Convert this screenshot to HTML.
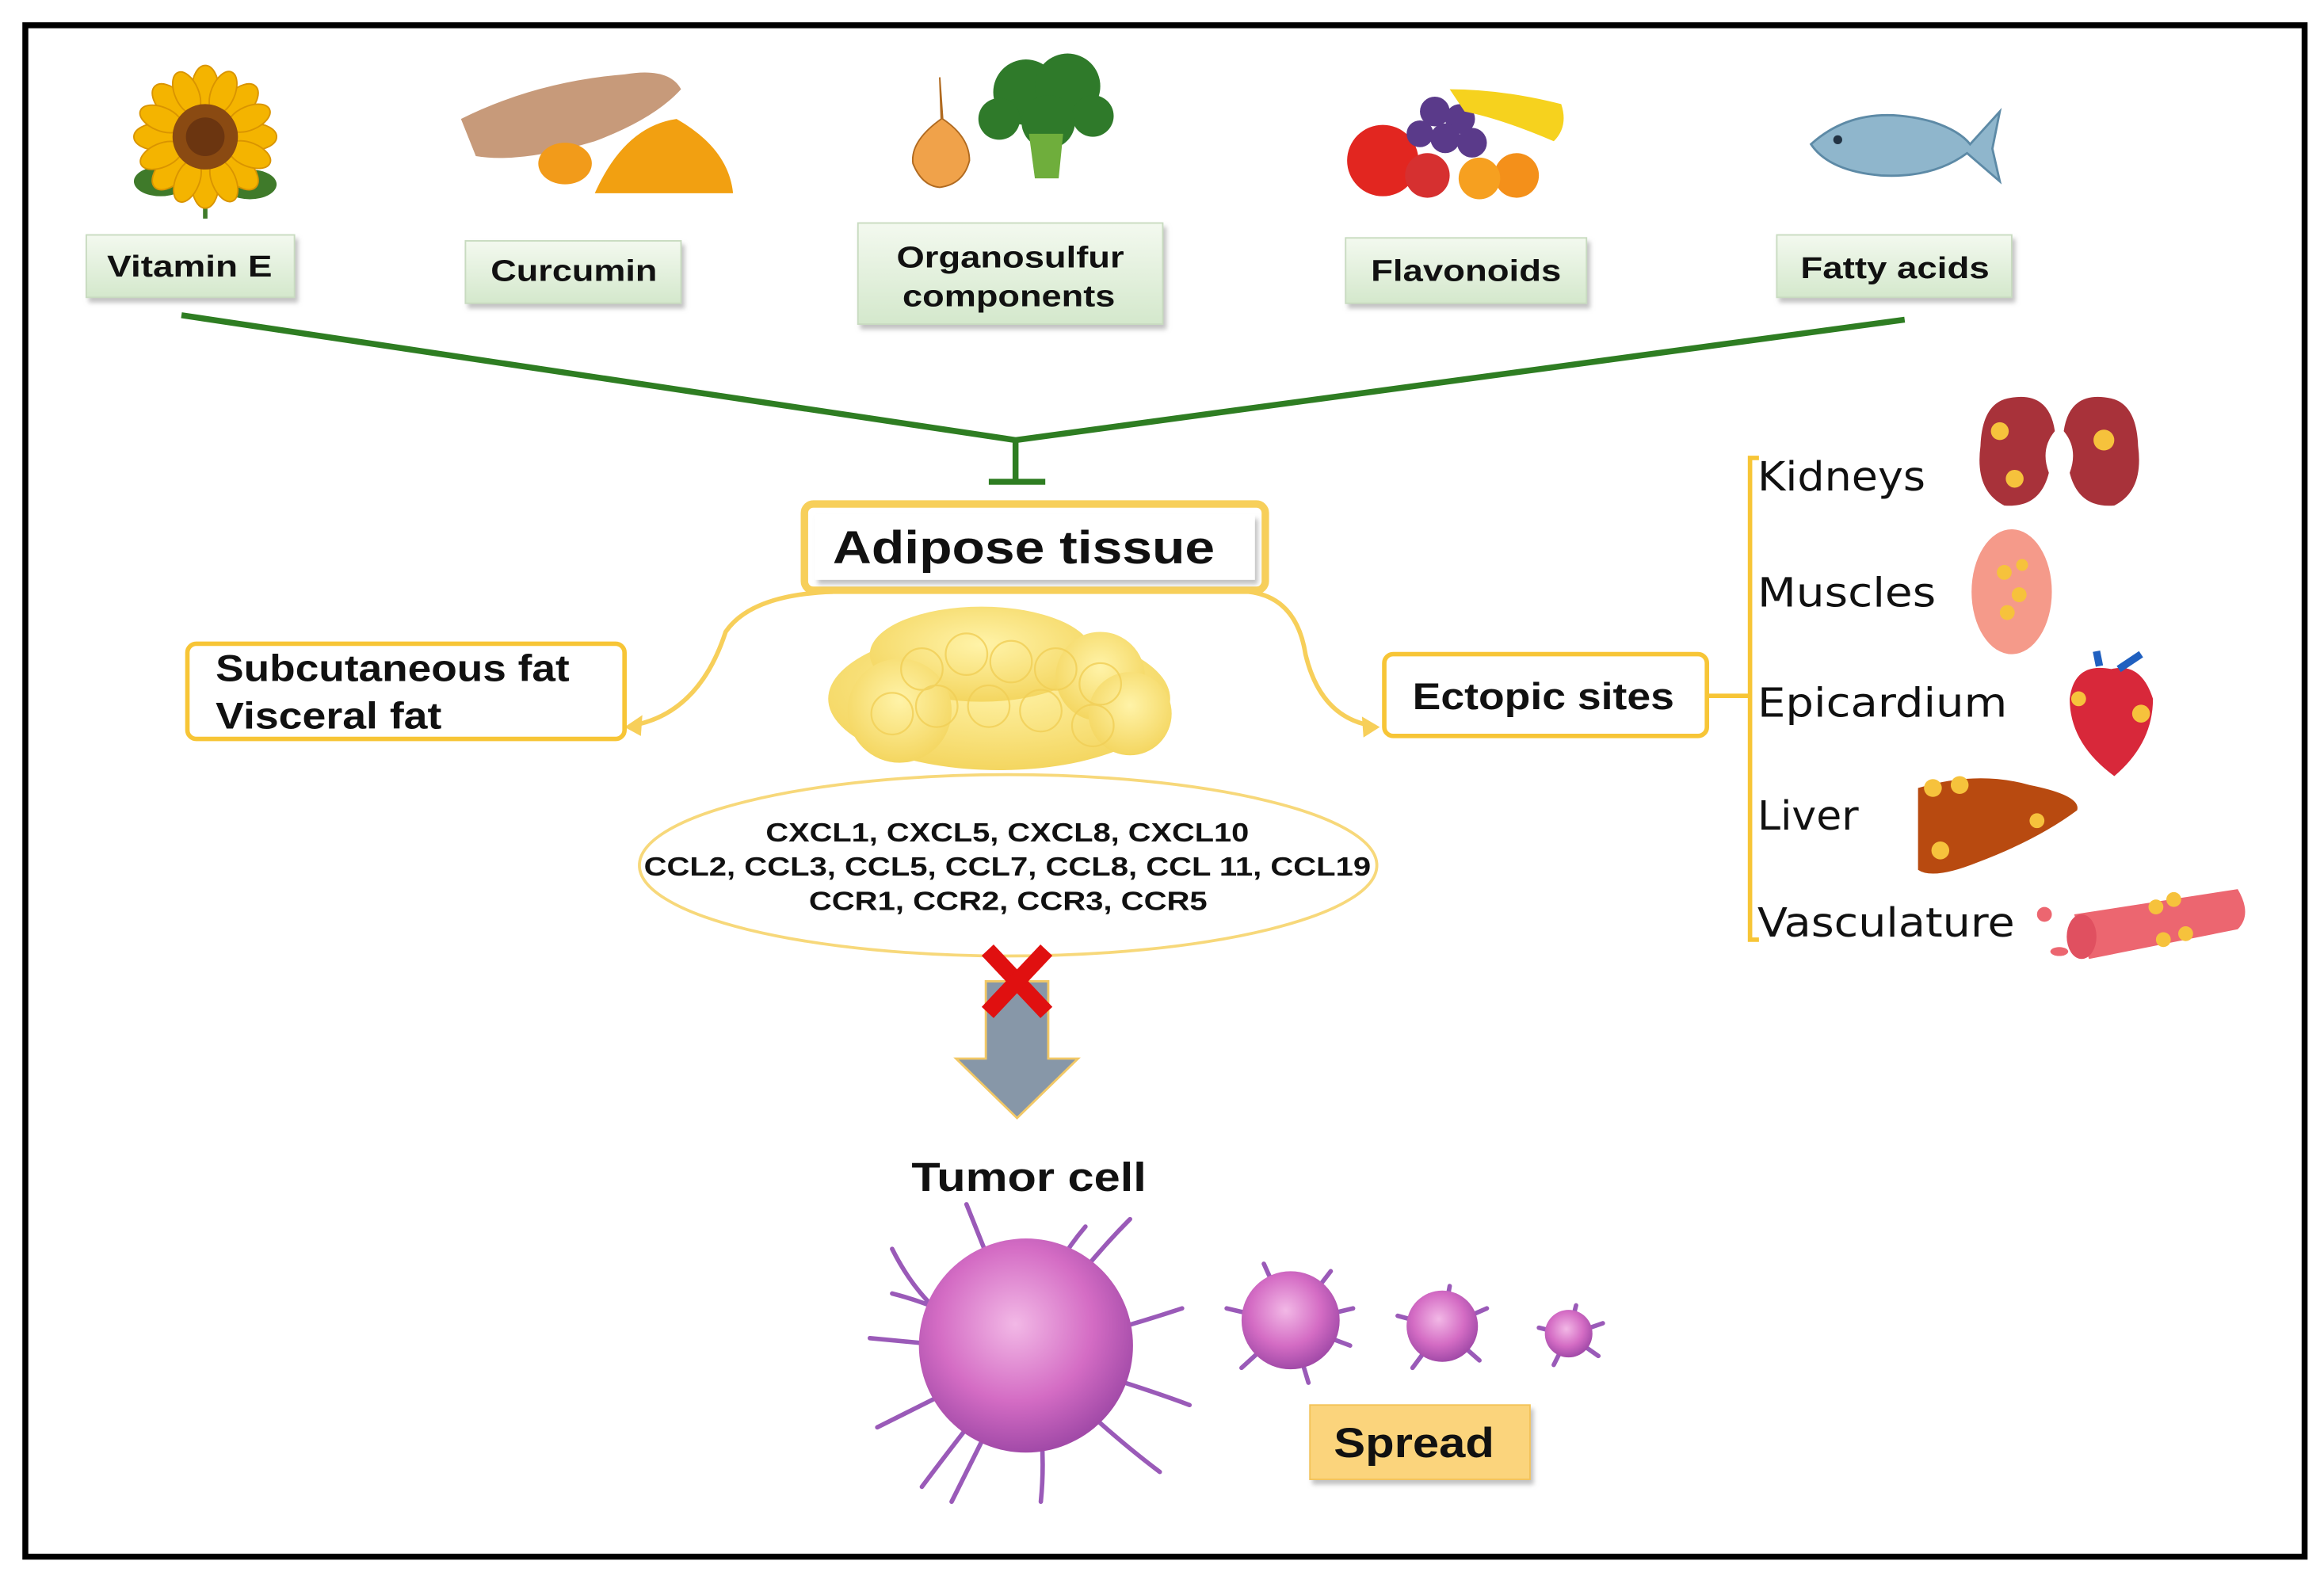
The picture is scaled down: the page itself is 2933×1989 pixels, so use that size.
<!DOCTYPE html>
<html><head><meta charset="utf-8"><style>
html,body{margin:0;padding:0;background:#fff;}
svg{display:block;}
.b{font-family:"Liberation Sans",Arial,sans-serif;font-weight:bold;fill:#111;}
.o{font-family:"DejaVu Sans",sans-serif;fill:#111;}
</style></head><body>
<svg width="2933" height="1989" viewBox="0 0 1563 1060" xmlns="http://www.w3.org/2000/svg">
<defs>
<linearGradient id="gg" x1="0" y1="0" x2="0" y2="1"><stop offset="0" stop-color="#f3f9ef"/><stop offset="1" stop-color="#d4e8cc"/></linearGradient>
<radialGradient id="fat" cx="0.5" cy="0.4" r="0.6"><stop offset="0" stop-color="#fff3a8"/><stop offset="1" stop-color="#f4d660"/></radialGradient>
<radialGradient id="cell" cx="0.45" cy="0.4" r="0.6"><stop offset="0" stop-color="#f2b8e6"/><stop offset="0.6" stop-color="#d46cc4"/><stop offset="1" stop-color="#a24aa8"/></radialGradient>
<filter id="sh" x="-10%" y="-10%" width="130%" height="140%"><feDropShadow dx="2" dy="3" stdDeviation="1.5" flood-color="#999" flood-opacity="0.6"/></filter>
</defs>
<rect x="17" y="17" width="1533" height="1030" fill="#fff" stroke="#000" stroke-width="4"/>

<!-- sunflower -->
<g transform="translate(138,92)">
<ellipse cx="-30" cy="30" rx="18" ry="10" fill="#3f7a2a"/><ellipse cx="30" cy="32" rx="18" ry="10" fill="#3f7a2a"/>
<line x1="0" y1="30" x2="0" y2="55" stroke="#3f7a2a" stroke-width="3"/>
<g fill="#f4b400" stroke="#d99400" stroke-width="1">
<ellipse cx="0" cy="-32" rx="9" ry="16"/><ellipse cx="0" cy="32" rx="9" ry="16"/><ellipse cx="-32" cy="0" rx="16" ry="9"/><ellipse cx="32" cy="0" rx="16" ry="9"/>
<ellipse cx="0" cy="-32" rx="9" ry="16" transform="rotate(45)"/><ellipse cx="0" cy="32" rx="9" ry="16" transform="rotate(45)"/><ellipse cx="-32" cy="0" rx="16" ry="9" transform="rotate(45)"/><ellipse cx="32" cy="0" rx="16" ry="9" transform="rotate(45)"/>
<ellipse cx="0" cy="-32" rx="8" ry="15" transform="rotate(22)"/><ellipse cx="0" cy="32" rx="8" ry="15" transform="rotate(22)"/><ellipse cx="-32" cy="0" rx="15" ry="8" transform="rotate(22)"/><ellipse cx="32" cy="0" rx="15" ry="8" transform="rotate(22)"/>
<ellipse cx="0" cy="-32" rx="8" ry="15" transform="rotate(67)"/><ellipse cx="0" cy="32" rx="8" ry="15" transform="rotate(67)"/><ellipse cx="-32" cy="0" rx="15" ry="8" transform="rotate(67)"/><ellipse cx="32" cy="0" rx="15" ry="8" transform="rotate(67)"/>
</g>
<circle r="22" fill="#8a4a12"/><circle r="13" fill="#6b3510"/>
</g>
<!-- curcumin -->
<g>
<path d="M310,80 Q360,55 420,50 Q450,45 458,60 Q440,80 400,95 Q350,110 320,105 Z" fill="#c79a7a"/>
<ellipse cx="380" cy="110" rx="18" ry="14" fill="#f29b1a"/>
<path d="M400,130 Q420,85 455,80 Q490,100 493,130 Z" fill="#f2a011"/>
</g>
<!-- onion & broccoli -->
<path d="M632,52 L633,80 Q612,95 614,110 Q620,125 632,126 Q648,124 652,108 Q652,92 634,80 Z" fill="#f0a24a" stroke="#b06a20" stroke-width="1"/>
<g fill="#2f7a2a"><circle cx="690" cy="62" r="22"/><circle cx="718" cy="58" r="22"/><circle cx="735" cy="78" r="14"/><circle cx="672" cy="80" r="14"/><circle cx="705" cy="82" r="18"/></g>
<path d="M692,90 L715,90 L712,120 L696,120 Z" fill="#6fae3c"/>
<!-- fruits -->
<g>
<circle cx="930" cy="108" r="24" fill="#e22620"/><circle cx="960" cy="118" r="15" fill="#d63030"/>
<g fill="#5a3a8a"><circle cx="965" cy="75" r="10"/><circle cx="982" cy="80" r="10"/><circle cx="972" cy="93" r="10"/><circle cx="990" cy="96" r="10"/><circle cx="955" cy="90" r="9"/></g>
<path d="M975,60 Q1010,60 1050,70 Q1055,85 1045,95 Q1010,80 985,75 Z" fill="#f6d21e"/>
<circle cx="1020" cy="118" r="15" fill="#f4901a"/><circle cx="995" cy="120" r="14" fill="#f6a020"/>
</g>
<!-- fish -->
<g>
<path d="M1218,97 Q1250,68 1300,82 Q1318,88 1325,97 L1345,75 L1340,100 L1345,122 L1323,103 Q1300,120 1265,118 Q1230,115 1218,97 Z" fill="#8fb6cc" stroke="#5d8aa6" stroke-width="1.5"/>
<circle cx="1236" cy="94" r="3" fill="#234"/>
</g>

<!-- label boxes -->
<g filter="url(#sh)">
<rect x="58" y="158" width="140" height="42" fill="url(#gg)" stroke="#c8dbc0"/>
<rect x="313" y="162" width="145" height="42" fill="url(#gg)" stroke="#c8dbc0"/>
<rect x="577" y="150" width="205" height="68" fill="url(#gg)" stroke="#c8dbc0"/>
<rect x="905" y="160" width="162" height="44" fill="url(#gg)" stroke="#c8dbc0"/>
<rect x="1195" y="158" width="158" height="42" fill="url(#gg)" stroke="#c8dbc0"/>
</g>
<text class="b" x="72" y="186" font-size="20" textLength="111" lengthAdjust="spacingAndGlyphs">Vitamin E</text>
<text class="b" x="330" y="189" font-size="20" textLength="112" lengthAdjust="spacingAndGlyphs">Curcumin</text>
<text class="b" x="603" y="180" font-size="20" textLength="153" lengthAdjust="spacingAndGlyphs">Organosulfur</text>
<text class="b" x="607" y="206" font-size="20" textLength="143" lengthAdjust="spacingAndGlyphs">components</text>
<text class="b" x="922" y="189" font-size="20" textLength="128" lengthAdjust="spacingAndGlyphs">Flavonoids</text>
<text class="b" x="1211" y="187" font-size="20" textLength="127" lengthAdjust="spacingAndGlyphs">Fatty acids</text>

<!-- green inhibition lines -->
<g stroke="#2e7d22" stroke-width="4" fill="none">
<polyline points="122,212 683,296 1281,215"/>
<line x1="683" y1="296" x2="683" y2="324"/>
<line x1="665" y1="324" x2="703" y2="324"/>
</g>

<!-- adipose tissue -->
<rect x="541" y="339" width="310" height="58" rx="6" fill="#fff" stroke="#f7cf5a" stroke-width="5"/>
<rect x="548" y="346" width="296" height="44" fill="#fff" filter="url(#sh)"/>
<text class="b" x="560" y="379" font-size="31" textLength="257" lengthAdjust="spacingAndGlyphs">Adipose tissue</text>

<!-- curved arrows -->
<g stroke="#f7cf5a" stroke-width="3" fill="none">
<path d="M560,398 Q505,400 488,425 Q470,480 425,488"/>
<path d="M840,398 Q872,402 878,440 Q888,482 922,488"/>
</g>
<polygon points="420,489 432,481 431,495" fill="#f7cf5a"/>
<polygon points="928,489 916,482 917,496" fill="#f7cf5a"/>

<!-- fat blob -->
<g fill="url(#fat)">
<ellipse cx="672" cy="470" rx="115" ry="48"/>
<ellipse cx="660" cy="440" rx="75" ry="32"/>
<circle cx="740" cy="455" r="30"/><circle cx="605" cy="478" r="35"/><circle cx="760" cy="480" r="28"/>
</g>
<g fill="none" stroke="#f1cf57" stroke-width="1.2" opacity="0.8">
<circle cx="620" cy="450" r="14"/><circle cx="650" cy="440" r="14"/><circle cx="680" cy="445" r="14"/><circle cx="710" cy="450" r="14"/><circle cx="740" cy="460" r="14"/>
<circle cx="600" cy="480" r="14"/><circle cx="630" cy="475" r="14"/><circle cx="665" cy="475" r="14"/><circle cx="700" cy="478" r="14"/><circle cx="735" cy="488" r="14"/>
</g>

<!-- side boxes -->
<rect x="126" y="433" width="294" height="64" rx="6" fill="#fff" stroke="#f7c536" stroke-width="3"/>
<text class="b" x="145" y="458" font-size="25" textLength="238" lengthAdjust="spacingAndGlyphs">Subcutaneous fat</text>
<text class="b" x="145" y="490" font-size="25" textLength="152" lengthAdjust="spacingAndGlyphs">Visceral fat</text>
<rect x="931" y="440" width="217" height="55" rx="6" fill="#fff" stroke="#f7c536" stroke-width="3"/>
<text class="b" x="950" y="477" font-size="25" textLength="176" lengthAdjust="spacingAndGlyphs">Ectopic sites</text>

<!-- ellipse -->
<ellipse cx="678" cy="582" rx="248" ry="61" fill="#fff" stroke="#f7d87a" stroke-width="2"/>
<text class="b" x="515" y="566" font-size="18" textLength="325" lengthAdjust="spacingAndGlyphs">CXCL1, CXCL5, CXCL8, CXCL10</text>
<text class="b" x="433" y="589" font-size="18" textLength="489" lengthAdjust="spacingAndGlyphs">CCL2, CCL3, CCL5, CCL7, CCL8, CCL 11, CCL19</text>
<text class="b" x="544" y="612" font-size="18" textLength="268" lengthAdjust="spacingAndGlyphs">CCR1, CCR2, CCR3, CCR5</text>

<!-- arrow + X -->
<polygon points="663,660 705,660 705,712 725,712 684,752 643,712 663,712" fill="#8797a8" stroke="#f2c866" stroke-width="1.5"/>
<g stroke="#e01010" stroke-width="11" stroke-linecap="square">
<line x1="668" y1="643" x2="700" y2="677"/><line x1="700" y1="643" x2="668" y2="677"/>
</g>

<text class="b" x="613" y="801" font-size="27" textLength="158" lengthAdjust="spacingAndGlyphs">Tumor cell</text>

<!-- tumor cells -->
<g stroke="#9a5ab8" stroke-width="3" stroke-linecap="round" fill="none">
<path d="M690,910 Q640,880 600,870 M690,910 Q630,940 590,960 M690,910 Q650,960 620,1000 M690,910 Q705,960 700,1010 M690,910 Q740,960 780,990 M690,910 Q750,895 795,880 M690,910 Q720,860 760,820 M690,910 Q670,860 650,810 M690,910 L585,900 M690,910 Q660,970 640,1010 M690,910 Q760,930 800,945 M690,910 Q700,860 730,825 M690,910 Q630,900 600,840"/>
<path d="M868,890 L825,880 M868,890 L835,920 M868,890 L880,930 M868,890 L908,905 M868,890 L895,855 M868,890 L850,850 M868,890 L910,880"/>
<path d="M970,893 L940,885 M970,893 L950,920 M970,893 L995,915 M970,893 L1000,880 M970,893 L975,865"/>
<path d="M1055,898 L1035,893 M1055,898 L1045,918 M1055,898 L1075,912 M1055,898 L1078,890 M1055,898 L1060,878"/>
</g>
<circle cx="690" cy="905" r="72" fill="url(#cell)"/>
<circle cx="868" cy="888" r="33" fill="url(#cell)"/>
<circle cx="970" cy="892" r="24" fill="url(#cell)"/>
<circle cx="1055" cy="897" r="16" fill="url(#cell)"/>

<!-- spread -->
<rect x="881" y="945" width="148" height="50" fill="#fbd47b" stroke="#f3c35a" filter="url(#sh)"/>
<text class="b" x="897" y="980" font-size="28" textLength="108" lengthAdjust="spacingAndGlyphs">Spread</text>

<!-- bracket -->
<g stroke="#f7c536" stroke-width="3" fill="none">
<path d="M1183,308 L1177,308 L1177,632 L1183,632"/>
<line x1="1148" y1="468" x2="1177" y2="468"/>
</g>
<text class="o" x="1182" y="330" font-size="27" textLength="113" lengthAdjust="spacingAndGlyphs">Kidneys</text>
<text class="o" x="1182" y="408" font-size="27" textLength="120" lengthAdjust="spacingAndGlyphs">Muscles</text>
<text class="o" x="1182" y="482" font-size="27" textLength="168" lengthAdjust="spacingAndGlyphs">Epicardium</text>
<text class="o" x="1182" y="558" font-size="27" textLength="68" lengthAdjust="spacingAndGlyphs">Liver</text>
<text class="o" x="1182" y="630" font-size="27" textLength="173" lengthAdjust="spacingAndGlyphs">Vasculature</text>

<!-- organs -->
<g>
<path d="M1350,268 Q1378,262 1382,290 Q1372,302 1378,318 Q1372,342 1348,340 Q1328,330 1332,300 Q1333,272 1350,268 Z" fill="#a8323a"/>
<path d="M1420,268 Q1392,262 1388,290 Q1398,302 1392,318 Q1398,342 1422,340 Q1442,330 1438,300 Q1437,272 1420,268 Z" fill="#a8323a"/>
<circle cx="1345" cy="290" r="6" fill="#f6c23c"/><circle cx="1355" cy="322" r="6" fill="#f6c23c"/><circle cx="1415" cy="296" r="7" fill="#f6c23c"/>
<ellipse cx="1353" cy="398" rx="27" ry="42" fill="#f59a8a"/>
<g fill="#f6c23c"><circle cx="1348" cy="385" r="5"/><circle cx="1358" cy="400" r="5"/><circle cx="1350" cy="412" r="5"/><circle cx="1360" cy="380" r="4"/></g>
<path d="M1392,470 Q1395,445 1420,450 Q1440,445 1448,470 Q1448,500 1422,522 Q1392,500 1392,470 Z" fill="#d8283a"/>
<path d="M1412,448 L1410,438 M1425,450 L1440,440" stroke="#2060c0" stroke-width="5"/>
<circle cx="1440" cy="480" r="6" fill="#f6c23c"/><circle cx="1398" cy="470" r="5" fill="#f6c23c"/>
<path d="M1290,530 Q1330,518 1365,528 Q1400,535 1397,545 Q1370,565 1330,580 Q1300,592 1290,585 Z" fill="#b84a10"/>
<g fill="#f6c23c"><circle cx="1300" cy="530" r="6"/><circle cx="1318" cy="528" r="6"/><circle cx="1305" cy="572" r="6"/><circle cx="1370" cy="552" r="5"/></g>
<path d="M1395,615 L1505,598 Q1515,615 1505,625 L1405,645 Z" fill="#ec6670"/>
<ellipse cx="1400" cy="630" rx="10" ry="15" fill="#e05060"/>
<circle cx="1375" cy="615" r="5" fill="#ec6670"/><ellipse cx="1385" cy="640" rx="6" ry="3" fill="#ec6670"/>
<g fill="#f6c23c"><circle cx="1450" cy="610" r="5"/><circle cx="1462" cy="605" r="5"/><circle cx="1455" cy="632" r="5"/><circle cx="1470" cy="628" r="5"/></g>
</g>
</svg>
</body></html>
